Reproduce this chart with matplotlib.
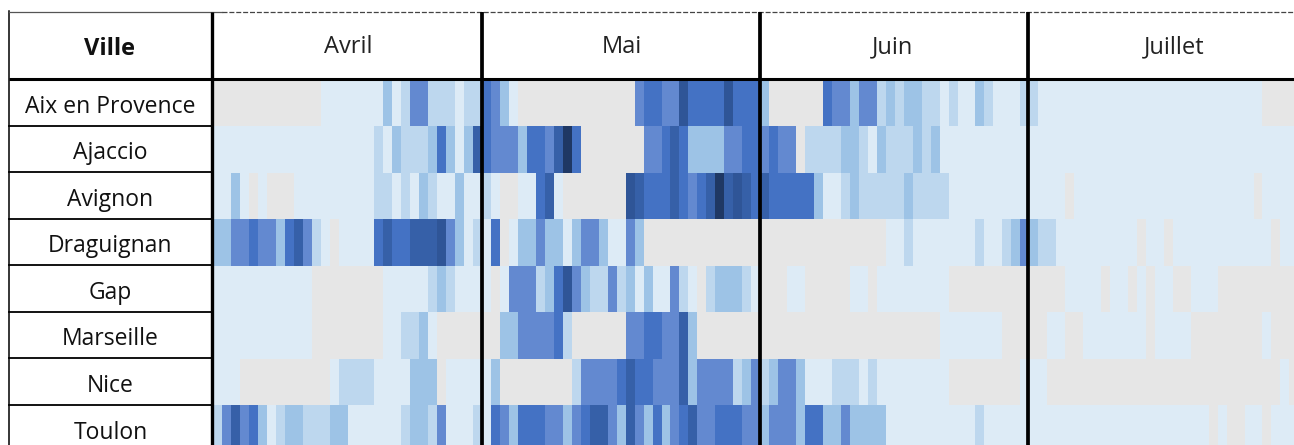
import numpy as np
import matplotlib
matplotlib.use("Agg")
import matplotlib.pyplot as plt
from matplotlib.colors import ListedColormap

# G = pas de donnee
G = -1

villes = ["Aix en Provence", "Ajaccio", "Avignon", "Draguignan", "Gap", "Marseille", "Nice", "Toulon"]
mois = ["Avril", "Mai", "Juin", "Juillet"]

avril = [
    [G,G,G,G,G,G,G,G,G,G,G,G,0,0,0,0,0,0,0,2,0,1,3,3,1,1,1,0,1,1],
    [0,0,0,0,0,0,0,0,0,0,0,0,0,0,0,0,0,0,1,0,2,1,1,1,2,4,2,0,2,5],
    [0,0,2,0,G,0,G,G,G,0,0,0,0,0,0,0,0,0,1,1,0,1,0,2,1,0,0,2,0,0],
    [2,2,3,3,4,3,3,2,4,5,3,1,0,G,0,0,0,0,4,5,4,4,5,5,5,6,3,2,0,1],
    [0,0,0,0,0,0,0,0,0,0,0,G,G,G,G,G,G,G,G,0,0,0,0,0,1,2,1,0,0,0],
    [0,0,0,0,0,0,0,0,0,0,0,G,G,G,G,G,G,G,G,0,0,1,1,2,0,G,G,G,G,G],
    [0,0,0,G,G,G,G,G,G,G,G,G,G,0,1,1,1,1,0,0,0,0,2,2,2,G,0,0,0,0],
    [1,3,5,3,4,2,0,1,2,2,1,1,1,2,2,0,0,0,0,0,0,1,2,2,1,3,0,0,0,1],
]
mai = [
    [4,3,2,0,G,G,G,G,G,G,G,G,G,G,G,G,G,3,4,4,3,3,6,4,4,4,4,6,4,4,4],
    [4,3,3,3,2,4,4,3,5,7,4,G,G,G,G,G,G,G,3,3,4,5,4,2,2,2,2,3,3,4,4],
    [1,0,G,G,0,0,4,5,0,G,G,G,G,G,G,G,6,5,4,4,4,5,4,3,4,5,7,5,6,5,4],
    [0,4,G,0,2,2,3,2,2,0,2,3,3,2,0,0,3,2,G,G,G,G,G,G,G,G,G,G,G,G,G],
    [0,G,0,3,3,3,1,2,4,6,3,2,1,1,3,1,2,0,2,0,0,3,1,0,G,1,2,2,2,1,0],
    [G,G,2,2,3,3,3,3,4,1,G,G,G,G,G,G,3,3,4,4,3,3,5,2,G,G,G,G,G,G,G],
    [0,2,G,G,G,G,G,G,G,G,1,3,3,3,3,4,5,4,4,3,3,3,5,2,3,3,3,3,1,2,3],
    [0,4,3,2,4,4,4,3,3,2,3,4,5,5,3,2,5,3,2,4,2,3,4,5,3,3,4,4,4,3,3],
]
juin = [
    [2,G,G,G,G,G,G,4,3,3,2,3,3,1,2,1,2,2,1,1,0,1,0,0,2,1,0,0,0,1],
    [3,4,3,3,G,1,1,1,1,2,2,1,0,2,1,1,1,2,1,2,0,0,0,0,0,0,0,0,0,0],
    [5,4,4,4,4,4,2,0,0,1,2,1,1,1,1,1,2,1,1,1,1,0,0,0,0,0,0,0,0,0],
    [G,G,G,G,G,G,G,G,G,G,G,G,G,G,0,0,1,0,0,0,0,0,0,0,1,0,0,1,2,3],
    [G,G,G,0,0,G,G,G,G,G,0,0,G,0,0,0,0,0,0,0,0,G,G,G,G,G,G,G,G,G],
    [G,G,G,G,G,G,G,G,G,G,G,G,G,G,G,G,G,G,G,G,0,0,0,0,0,0,0,G,G,G],
    [1,2,3,3,2,0,0,0,1,1,1,0,1,0,0,0,0,0,0,0,0,G,G,G,G,G,G,G,G,0],
    [2,3,3,3,2,4,4,2,2,3,2,2,2,2,0,0,0,0,0,0,0,0,0,0,1,0,0,0,0,0],
]
juillet = [
    [1,0,0,0,0,0,0,0,0,0,0,0,0,0,0,0,0,0,0,0,0,0,0,0,0,0,G,G,G,G],
    [0,0,0,0,0,0,0,0,0,0,0,0,0,0,0,0,0,0,0,0,0,0,0,0,0,0,0,0,0,0],
    [0,0,0,0,G,0,0,0,0,0,0,0,0,0,0,0,0,0,0,0,0,0,0,0,0,G,0,0,0,0],
    [2,1,1,0,0,0,0,0,0,0,0,0,G,0,0,G,0,0,0,0,0,0,0,0,0,0,0,G,0,0],
    [G,G,G,G,0,0,0,0,G,0,0,G,0,G,0,0,G,G,0,0,0,G,G,G,G,G,G,G,G,G],
    [G,G,0,0,G,G,0,0,0,0,0,0,0,G,0,0,0,0,G,G,G,G,G,G,G,G,0,G,G,G],
    [0,0,G,G,G,G,G,G,G,G,G,G,G,G,G,G,G,G,G,G,G,G,G,G,G,G,G,G,0,G],
    [0,0,0,0,0,0,0,0,0,0,0,0,0,0,0,0,0,0,0,0,G,0,G,G,0,0,G,0,0,0],
]

couleurs = ["#e6e6e6", "#ddebf6", "#bdd7ee", "#9dc3e6", "#6389d0", "#4472c4", "#3660a8", "#2f5597", "#1f3864"]

plt.rcParams["font.family"] = ["Open Sans", "DejaVu Sans"]

W, H = 1294, 445
fig = plt.figure(figsize=(W / 100, H / 100), dpi=100)
fig.patch.set_facecolor("white")

# grille : 121 jours de 8.97 px, 8 lignes de 46.5 px, coupee par le bord de l'image
data = np.hstack([avril, mai, juin, juillet])
nb_jours = data.shape[1]
larg, haut = 8.97 * nb_jours, 46.5 * len(villes)
ax = fig.add_axes([213 / W, 1 - (79.5 + haut) / H, larg / W, haut / H])
ax.pcolormesh(np.arange(nb_jours + 1), np.arange(len(villes) + 1), data,
              cmap=ListedColormap(couleurs), vmin=-1.5, vmax=7.5, antialiased=False, linewidth=0)
ax.set_xlim(0, nb_jours)
ax.set_ylim(len(villes), 0)
ax.axis("off")

# lignes et textes du tableau, en pixels
tab = fig.add_axes([0, 0, 1, 1], facecolor="none")
tab.set_xlim(0, W)
tab.set_ylim(H, 0)
tab.axis("off")

tab.plot([8.5, 8.5], [11, H], color="black", lw=1.1)
tab.plot([8.5, 222], [11.5, 11.5], color="#555555", lw=0.9)
tab.plot([222, W], [11.5, 11.5], color="#444444", lw=0.9, ls=(0, (4, 1.5)))
tab.plot([8.5, W], [78.5, 78.5], color="black", lw=2.2, solid_capstyle="butt")
for y in [125.7, 171.7, 218.5, 265, 311.5, 358, 405]:
    tab.plot([8.5, 212], [y, y], color="black", lw=1.3)
for x, lw in zip([212, 482, 760, 1028], [2.4, 2.7, 2.7, 2.7]):
    tab.plot([x, x], [11.5, H], color="black", lw=lw, solid_capstyle="butt")

tab.text(110, 49, "Ville", fontsize=17, fontweight="bold", ha="center", va="center", color="#111111")
for nom, x in zip(mois, [348, 622, 893, 1174]):
    tab.text(x, 47, nom, fontsize=17, ha="center", va="center", color="#222222")
for nom, y in zip(villes, [107, 153, 200, 246, 293, 339, 386, 433]):
    tab.text(110.5, y, nom, fontsize=16.5, ha="center", va="center", color="#111111")

fig.savefig("out.png", dpi=100)
